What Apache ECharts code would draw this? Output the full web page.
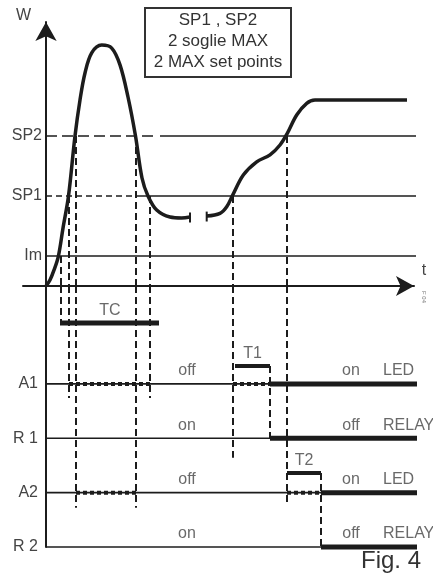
<!DOCTYPE html>
<html><head><meta charset="utf-8">
<script src="https://cdn.jsdelivr.net/npm/echarts@6/dist/echarts.min.js"></script>
<style>html,body{margin:0;padding:0;background:#fff}#c{width:433px;height:576px}</style>
</head><body><div id="c"></div>
<script>
// ---- data ----
const thresholdLevels = [1, 3, 5];
const thresholdNames = ['Im', 'SP1', 'SP2'];
const rowLevels = [0, 1, 2, 3];
const rowNames = ['R 2', 'A2', 'R 1', 'A1'];
const rowTags = ['RELAY', 'LED', 'RELAY', 'LED'];
const statesBefore = ['on', 'off', 'on', 'off'];
const statesAfter = ['off', 'on', 'off', 'on'];
// W(t), first part (start-up peak) and second part (after the break)
const curveRise = [[0,0],[0.4,0.2],[0.8,0.53],[1.23,0.98],[1.7,1.93],[2.25,3.0],[2.9,5.0],[3.4,6.2],[3.9,7.1],[4.57,7.77],[5.57,8.03],[6.57,7.93],[7.4,7.37],[8.2,6.3],[8.95,5.0],[9.6,3.6],[10.2,3.0],[11.07,2.53],[12.4,2.3],[13.57,2.27],[14.4,2.3]];
const curveRecover = [[16.07,2.33],[17.4,2.42],[18.07,2.64],[18.67,3.03],[19.73,3.7],[21.07,4.14],[22.4,4.37],[23.4,4.7],[24.13,5.09],[25.07,5.7],[26.07,6.09],[26.9,6.2],[28.5,6.2],[36.1,6.2]];
const breakTimes = [14.4, 16.07];
// event times
const tIm = 1.5, tSP1up = 2.3, tSP2up = 3.0, tSP2down = 9.0, tSP1down = 10.4, tTCend = 11.3;
const tSP1up2 = 18.7, tT1start = 18.9, tT1end = 22.4, tSP2up2 = 24.1, tT2end = 27.5;
const tEnd = 38.1;

// ---- layout constants ----
const TC_Y = 4.12, T1_Y = 3.33, T2_Y = 1.36, TOP2 = 4.8;
const INK = '#1c1c1c', TXT = '#444', FONT = 'Liberation Sans, Arial, sans-serif';

function seg(gi, pts, w, type, z) {
  return {type: 'line', xAxisIndex: gi, yAxisIndex: gi, data: pts, symbol: 'none', silent: true,
    animation: false, clip: false, z: z || 2,
    lineStyle: {color: INK, width: w, type: type || 'solid', cap: 'butt'}};
}
const series = [];
// W curve
series.push(Object.assign(seg(0, curveRise, 3.5, 'solid', 5), {smooth: 0.35}));
series.push(Object.assign(seg(0, curveRecover, 3.5, 'solid', 5), {smooth: 0.35}));
series.push(seg(0, [[breakTimes[0], 2.12], [breakTimes[0], 2.45]], 2));
series.push(seg(0, [[breakTimes[1], 2.15], [breakTimes[1], 2.48]], 2));
// threshold lines
series.push(seg(0, [[0, 1], [tEnd, 1]], 1.6));
series.push(seg(0, [[0, 3], [9.2, 3]], 1.6, [6, 4]));
series.push(seg(0, [[9.2, 3], [tEnd, 3]], 1.6));
series.push(seg(0, [[0, 5], [11.0, 5]], 1.6, [11, 5]));
series.push(seg(0, [[11.4, 5], [tEnd, 5]], 1.6));
// dashed verticals: [time, level in W chart, end level in timing chart]
const verticals = [[tIm, 1, TC_Y], [tSP1up, 3, 2.74], [tSP2up, 5, 0.72], [tSP2down, 5, 0.72],
  [tSP1down, 3, 2.74], [tSP1up2, 3, 1.64], [tSP2up2, 5, 0.77]];
verticals.forEach(v => {
  series.push(seg(0, [[v[0], v[1]], [v[0], 0]], 2, [7, 4]));
  series.push(seg(1, [[v[0], TOP2], [v[0], v[2]]], 2, [7, 4]));
});
series.push(seg(1, [[tT1end, T1_Y], [tT1end, 2]], 2, [7, 4]));
series.push(seg(1, [[tT2end, T2_Y], [tT2end, 0]], 2, [7, 4]));
// timer bars
series.push(seg(1, [[tIm - 0.1, TC_Y], [tTCend, TC_Y]], 5, 'solid', 4));
series.push(seg(1, [[tT1start, T1_Y], [tT1end, T1_Y]], 4, 'solid', 4));
series.push(seg(1, [[tSP2up2, T2_Y], [tT2end, T2_Y]], 4, 'solid', 4));
// row base lines
rowLevels.forEach(l => series.push(seg(1, [[0, l], [tEnd, l]], 1.6)));
// pending (dotted) and active (thick) states
series.push(seg(1, [[tSP1up, 3], [tSP1down, 3]], 4, [4, 3], 4));
series.push(seg(1, [[tSP1up2, 3], [tT1end, 3]], 4, [4, 3], 4));
series.push(seg(1, [[tSP2up, 1], [tSP2down, 1]], 4, [4, 3], 4));
series.push(seg(1, [[tSP2up2, 1], [tT2end, 1]], 4, [4, 3], 4));
series.push(seg(1, [[tT1end, 3], [tEnd - 0.3, 3]], 5, 'solid', 4));
series.push(seg(1, [[tT1end, 2], [tEnd, 2]], 5, 'solid', 4));
series.push(seg(1, [[tT2end, 1], [tEnd - 0.3, 1]], 5, 'solid', 4));
series.push(seg(1, [[tT2end, 0], [tEnd, 0]], 5, 'solid', 4));

// text labels on the timing chart
const lbl = (data, extra) => ({type: 'scatter', xAxisIndex: 1, yAxisIndex: 1, symbolSize: 0, silent: true,
  animation: false, clip: false, z: 6, data: data,
  label: Object.assign({show: true, position: 'top', distance: 5, formatter: p => p.name,
    fontFamily: FONT, fontSize: 16, color: TXT}, extra || {})});
series.push(lbl(rowLevels.map((l, i) => ({name: statesBefore[i], value: [14.1, l]}))));
series.push(lbl(rowLevels.map((l, i) => ({name: statesAfter[i], value: [30.5, l]}))));
series.push(lbl(rowLevels.map((l, i) => ({name: rowTags[i], value: [33.7, l]})), {align: 'left'}));
series.push(lbl([
  {name: 'TC', value: [(tIm + tTCend) / 2, TC_Y]},
  {name: 'T1', value: [(tT1start + tT1end) / 2, T1_Y]},
  {name: 'T2', value: [(tSP2up2 + tT2end) / 2, T2_Y]}
], {distance: 4}));

const axisLabelBase = {fontFamily: FONT, fontSize: 16, color: TXT, margin: -19, padding: [0, 0, 10, 0]};
const option = {
  backgroundColor: '#fff',
  animation: false,
  grid: [
    {left: 23, right: 19, top: 22, bottom: 290, containLabel: false, outerBoundsMode: 'none'},
    {left: 23, right: 19, top: 286, bottom: 29, containLabel: false, outerBoundsMode: 'none'}
  ],
  xAxis: [
    {gridIndex: 0, type: 'value', min: -2.3, max: 36.8,
      axisLine: {show: true, onZero: true, symbol: ['none', 'arrow'], symbolSize: [15, 18], lineStyle: {color: INK, width: 2}},
      axisTick: {show: false}, axisLabel: {show: false}, splitLine: {show: false},
      name: 't', nameLocation: 'end', nameGap: 10,
      nameTextStyle: {fontFamily: FONT, fontSize: 16, color: TXT, align: 'center', verticalAlign: 'bottom', padding: [0, 0, 7, 0]}},
    {gridIndex: 1, type: 'value', min: -2.3, max: 36.8, show: false}
  ],
  yAxis: [
    {gridIndex: 0, type: 'value', min: 0, max: 8.8, interval: 1,
      axisLine: {show: true, onZero: true, symbol: ['none', 'arrow'], symbolSize: [16, 19], lineStyle: {color: INK, width: 2}},
      axisTick: {show: false}, splitLine: {show: false},
      axisLabel: Object.assign({formatter: v => { const i = thresholdLevels.indexOf(v); return i >= 0 ? thresholdNames[i] : ''; }}, axisLabelBase),
      name: 'W', nameLocation: 'end', nameGap: -2,
      nameTextStyle: {fontFamily: FONT, fontSize: 16, color: TXT, align: 'right', verticalAlign: 'bottom', padding: [0, 15, 0, 0]}},
    {gridIndex: 1, type: 'value', min: 0, max: 4.8, interval: 1,
      axisLine: {show: true, onZero: true, lineStyle: {color: INK, width: 2}},
      axisTick: {show: false}, splitLine: {show: false},
      axisLabel: Object.assign({formatter: v => { const i = rowLevels.indexOf(v); return i >= 0 ? rowNames[i] : ''; }}, axisLabelBase, {margin: -15})}
  ],
  graphic: [
    {type: 'rect', shape: {x: 145, y: 8, width: 146, height: 69}, style: {fill: '#fff', stroke: '#333', lineWidth: 2}, z: 10},
    {type: 'text', x: 218, y: 20, z: 11, style: {text: 'SP1 , SP2', font: '17px ' + FONT, fill: '#333', align: 'center', verticalAlign: 'middle'}},
    {type: 'text', x: 218, y: 41, z: 11, style: {text: '2 soglie MAX', font: '17px ' + FONT, fill: '#333', align: 'center', verticalAlign: 'middle'}},
    {type: 'text', x: 218, y: 62, z: 11, style: {text: '2 MAX set points', font: '17px ' + FONT, fill: '#333', align: 'center', verticalAlign: 'middle'}},
    {type: 'text', x: 391, y: 561, z: 11, style: {text: 'Fig. 4', font: '24px ' + FONT, fill: '#333', align: 'center', verticalAlign: 'middle'}},
    {type: 'text', x: 424, y: 297, rotation: -Math.PI / 2, z: 11, style: {text: 'F 04', font: '6px ' + FONT, fill: '#777', align: 'center', verticalAlign: 'middle'}}
  ],
  series: series
};
const chart = echarts.init(document.getElementById('c'), null, {renderer: 'canvas'});
chart.setOption(option);
</script></body></html>
